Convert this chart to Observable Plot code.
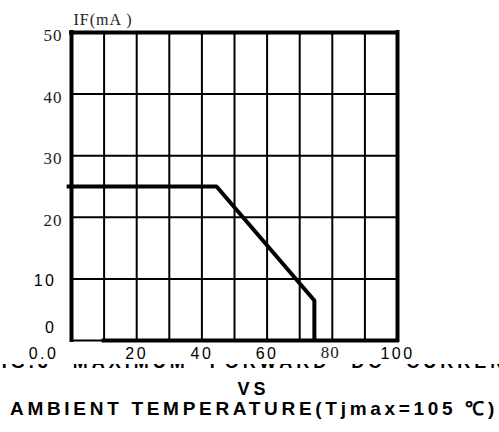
<!DOCTYPE html>
<html>
<head>
<meta charset="utf-8">
<script src="https://cdn.jsdelivr.net/npm/d3@7"></script>
<script src="https://cdn.jsdelivr.net/npm/@observablehq/plot@0.6"></script>
<style>
  html, body { margin: 0; padding: 0; background: #fff; }
  #root { position: relative; width: 499px; height: 432px; overflow: hidden; background: #fff; }
  #chart { position: absolute; left: 0; top: 0; }
  .t { position: absolute; white-space: nowrap; color: #000; font-family: "Liberation Sans", Arial, sans-serif; font-weight: bold; }
</style>
</head>
<body>
<div id="root">
  <div id="chart"></div>
  <div class="t" id="cut" style="top:364px;left:0;width:499px;height:6px;overflow:hidden;">
    <div id="cutText" style="position:absolute;top:-11.2px;left:-20px;width:549px;text-align:center;font-size:18px;line-height:18px;letter-spacing:4px;word-spacing:12px;"></div>
  </div>
  <div class="t" id="vs" style="top:380px;left:4px;width:499px;text-align:center;font-size:18px;line-height:18px;letter-spacing:4px;"></div>
  <div class="t" id="sub" style="top:399px;left:10px;font-size:19px;line-height:19px;letter-spacing:3.7px;"></div>
</div>
<script>
// ---- data ----
const temperature = [-1.5, 44.5, 74.5, 74.5];   // °C
const current = [25, 25, 6.5, 0];               // mA
const xTicks = [0, 20, 40, 60, 80, 100];
const xTickLabels = ["0.0", "20", "40", "60", "80", "100"];
const yTicks = [0, 10, 20, 30, 40, 50];
const yTickLabels = ["0", "10", "20", "30", "40", "50"];
const xGrid = [10, 20, 30, 40, 50, 60, 70, 80, 90];
const yGrid = [10, 20, 30, 40];
const yAxisLabel = "IF(mA )";
const titleLine1 = "FIG.3 MAXIMUM FORWARD DC CURRENT";
const titleLine2 = "VS";
const titleLine3 = "AMBIENT TEMPERATURE(Tjmax=105 ℃)";

const curve = temperature.map((t, i) => ({t, c: current[i]}));
const xLab = xTicks.map((v, i) => ({v, label: xTickLabels[i]}));
const yLab = yTicks.map((v, i) => ({v, label: yTickLabels[i]}));

const SERIF = "Liberation Serif, Times New Roman, serif";
const SANS = "Liberation Sans, Arial, sans-serif";

const chart = Plot.plot({
  width: 499,
  height: 362,
  marginTop: 32,
  marginRight: 102,
  marginBottom: 22,
  marginLeft: 71,
  style: {background: "white", color: "black"},
  x: {domain: [0, 100], axis: null},
  y: {domain: [0, 50], axis: null},
  marks: [
    // grid
    Plot.ruleX(xGrid, {stroke: "#000", strokeWidth: 2}),
    Plot.ruleY(yGrid, {stroke: "#000", strokeWidth: 2}),
    // frame
    Plot.ruleX([0, 100], {stroke: "#000", strokeWidth: 4, strokeLinecap: "square"}),
    Plot.ruleY([50], {x1: 0, x2: 100, stroke: "#000", strokeWidth: 4, strokeLinecap: "square"}),
    Plot.ruleY([0], {x1: 10, x2: 100, stroke: "#000", strokeWidth: 4, strokeLinecap: "square"}),
    Plot.ruleY([0], {x1: 0, x2: 10, stroke: "#000", strokeWidth: 2}),
    // derating curve
    Plot.line(curve, {x: "t", y: "c", stroke: "#000", strokeWidth: 4, strokeLinejoin: "miter", strokeLinecap: "butt"}),
    // y tick labels
    Plot.text(yLab, {filter: d => d.v >= 20, x: 0, y: "v", text: "label", textAnchor: "end", dx: -9, dy: 3, fontFamily: SERIF, fontSize: 17, fill: "#222"}),
    Plot.text(yLab, {filter: d => d.v === 10, x: 0, y: "v", text: "label", textAnchor: "end", dx: -15, dy: 2, fontFamily: SANS, fontSize: 16, fill: "#000"}),
    Plot.text(yLab, {filter: d => d.v === 0, x: 0, y: "v", text: "label", textAnchor: "end", dx: -15, dy: -13, fontFamily: SANS, fontSize: 16, fill: "#000"}),
    // x tick labels
    Plot.text(xLab, {filter: d => d.v === 0, x: "v", y: 0, text: "label", dx: -28, dy: 13, fontFamily: SANS, fontSize: 16, fill: "#000"}),
    Plot.text(xLab, {filter: d => d.v > 0 && d.v !== 80, x: "v", y: 0, text: "label", dx: 0, dy: 13, fontFamily: SANS, fontSize: 16, fill: "#000"}),
    Plot.text(xLab, {filter: d => d.v === 80, x: "v", y: 0, text: "label", dx: -2, dy: 12, fontFamily: SERIF, fontSize: 17, fill: "#222"}),
    // y axis label
    Plot.text([yAxisLabel], {x: 0, y: 50, text: d => d, textAnchor: "start", dx: 2, dy: -13, fontFamily: SERIF, fontSize: 16, fill: "#222"})
  ]
});

// letter spacing for tick labels
d3.select(chart).selectAll("text").each(function() {
  const el = d3.select(this);
  const fam = el.attr("font-family") || (this.parentNode && this.parentNode.getAttribute("font-family")) || "";
  el.style("letter-spacing", fam.indexOf("Serif") >= 0 ? "1px" : "2.5px");
});

document.getElementById("chart").appendChild(chart);
document.getElementById("cutText").textContent = titleLine1;
document.getElementById("vs").textContent = titleLine2;
document.getElementById("sub").textContent = titleLine3;
</script>
</body>
</html>
